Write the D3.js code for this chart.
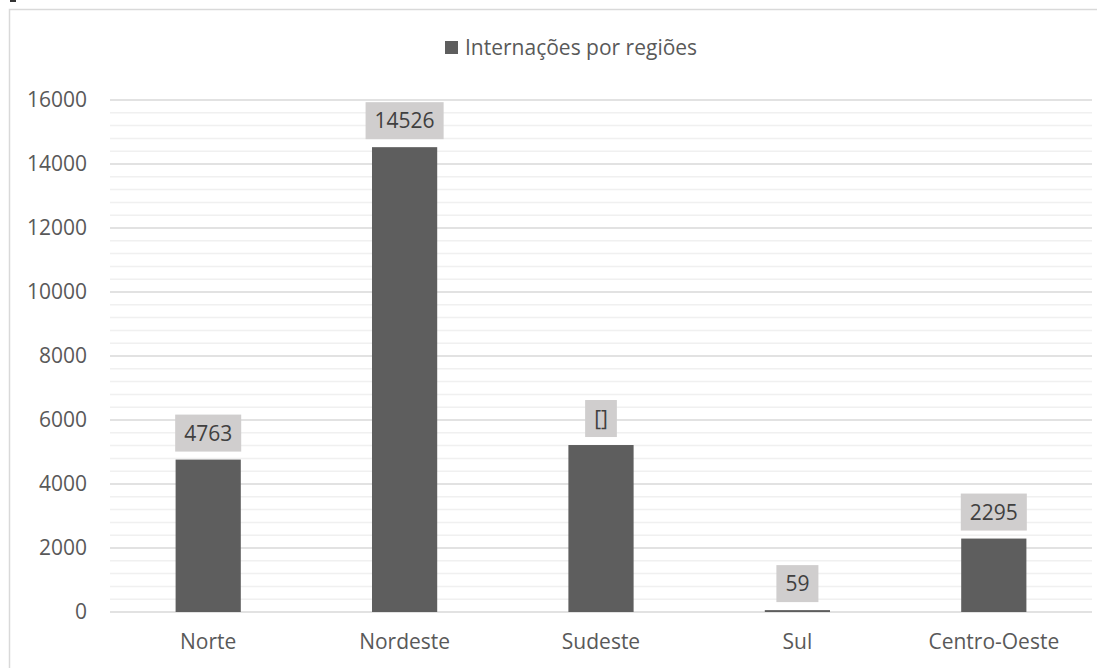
<!DOCTYPE html>
<html>
<head>
<meta charset="utf-8">
<script src="https://cdn.jsdelivr.net/npm/d3@7"></script>
<style>
  html, body { margin: 0; padding: 0; background: #ffffff; }
  svg { display: block; font-family: "Open Sans", "Noto Sans", sans-serif; }
</style>
</head>
<body>
<svg id="chart" width="1097" height="668"></svg>
<script>
// Hospitalisations by region
const regions = ["Norte", "Nordeste", "Sudeste", "Sul", "Centro-Oeste"];
const internacoes = [4763, 14526, 5218, 59, 2295];
const dataLabels = ["4763", "14526", "[]", "59", "2295"];
const yTicks = [0, 2000, 4000, 6000, 8000, 10000, 12000, 14000, 16000];
const seriesName = "Internações por regiões";

const svg = d3.select("#chart");
const W = 1097, H = 668;

// chart frame
svg.append("rect")
  .attr("x", 9.5).attr("y", 9.5)
  .attr("width", W + 10).attr("height", H + 10)
  .attr("fill", "#ffffff")
  .attr("stroke", "#d9d9d9").attr("stroke-width", 1.5);

svg.append("rect").attr("x", 10).attr("y", 0).attr("width", 6).attr("height", 2).attr("fill", "#333");

const plot = { left: 110, right: 1092, top: 100, bottom: 612 };

const x = d3.scaleBand().domain(regions).range([plot.left, plot.right]).padding(0);
const y = d3.scaleLinear().domain([0, 16000]).range([plot.bottom, plot.top]);

// minor gridlines every 400
const minor = d3.range(0, 16001, 400).filter(v => v % 2000 !== 0);
svg.append("g").selectAll("line").data(minor).join("line")
  .attr("x1", plot.left).attr("x2", plot.right)
  .attr("y1", d => y(d)).attr("y2", d => y(d))
  .attr("stroke", "#f0f0f0").attr("stroke-width", 1.5);

// major gridlines
svg.append("g").selectAll("line").data(yTicks).join("line")
  .attr("x1", plot.left).attr("x2", plot.right)
  .attr("y1", d => y(d)).attr("y2", d => y(d))
  .attr("stroke", "#d9d9d9").attr("stroke-width", 1.5);

// y axis labels
const yAxis = d3.axisLeft(y).tickValues(yTicks).tickSize(0).tickPadding(0).tickFormat(d3.format("d"));
const gy = svg.append("g").attr("transform", `translate(${87},0)`).call(yAxis);
gy.select(".domain").remove();
gy.selectAll("text")
  .attr("fill", "#595959").attr("font-size", 21)
  .attr("font-family", "'Open Sans', 'Noto Sans', sans-serif");

// x axis labels
const xAxis = d3.axisBottom(x).tickSize(0).tickPadding(0);
const gx = svg.append("g").attr("transform", `translate(0,${plot.bottom + 22})`).call(xAxis);
gx.select(".domain").remove();
gx.selectAll("text")
  .attr("fill", "#595959").attr("font-size", 21)
  .attr("font-family", "'Open Sans', 'Noto Sans', sans-serif");

// bars
const barW = x.bandwidth() * 0.332;
const data = regions.map((r, i) => ({ r, v: internacoes[i], label: dataLabels[i] }));

svg.append("g").selectAll("rect").data(data).join("rect")
  .attr("x", d => x(d.r) + x.bandwidth() / 2 - barW / 2)
  .attr("y", d => y(d.v))
  .attr("width", barW)
  .attr("height", d => y(0) - y(d.v))
  .attr("fill", "#5e5e5e");

// value labels in grey boxes
const lbl = svg.append("g").selectAll("g").data(data).join("g");
lbl.append("text")
  .attr("x", d => x(d.r) + x.bandwidth() / 2)
  .attr("y", d => y(d.v) - 19)
  .attr("text-anchor", "middle")
  .attr("font-size", 21)
  .attr("fill", "#404040")
  .text(d => d.label);
lbl.each(function(d) {
  const g = d3.select(this);
  const bb = g.select("text").node().getBBox();
  const cx = x(d.r) + x.bandwidth() / 2;
  const w = Math.max(bb.width + 18, 31);
  g.insert("rect", "text")
    .attr("x", cx - w / 2)
    .attr("y", y(d.v) - 45)
    .attr("width", w)
    .attr("height", 37)
    .attr("fill", "#d0cece");
});

// legend
const legend = svg.append("g");
legend.append("rect").attr("x", 445).attr("y", 41).attr("width", 13).attr("height", 13).attr("fill", "#5e5e5e");
legend.append("text").attr("x", 465).attr("y", 55)
  .attr("font-size", 21).attr("fill", "#595959")
  .text(seriesName);
</script>
</body>
</html>
